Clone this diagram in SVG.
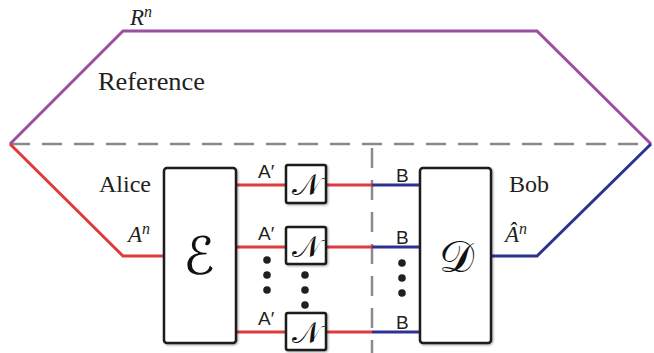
<svg xmlns="http://www.w3.org/2000/svg" width="654" height="353" viewBox="0 0 654 353">
<defs>
<filter id="sh" x="-20%" y="-20%" width="140%" height="140%">
<feDropShadow dx="1" dy="1" stdDeviation="1.2" flood-color="#000" flood-opacity="0.35"/>
</filter>
<style>
.purple{fill:none;stroke:#9c4f9e;stroke-width:3;stroke-linejoin:miter}
.red{fill:none;stroke:#e0393e;stroke-width:3}
.blue{fill:none;stroke:#2e3192;stroke-width:3}
.dash{fill:none;stroke:#8a8a8a;stroke-width:2.5;stroke-dasharray:20 12}
.box{fill:#fff;stroke:#1a1a1a;stroke-width:2.5;filter:url(#sh)}
.serif{font-family:"Liberation Serif","DejaVu Serif",serif;fill:#231f20}
.it{font-style:italic}
.sans{font-family:"Liberation Sans","DejaVu Sans",sans-serif;fill:#231f20}
.script{font-family:"DejaVu Serif","DejaVu Sans","Noto Sans",serif;fill:#111;text-anchor:middle}
.dot{fill:#231f20}
</style>
</defs>
<g id="connectors">
<line class="dash" x1="10" y1="144" x2="651" y2="144"/>
<line class="dash" x1="372" y1="148" x2="372" y2="353"/>
<polyline class="purple" points="10,144 123,31 537,31 651,144"/>
<polyline class="red" points="10,144 123,256 164,256"/>
<polyline class="blue" points="491,256 537,256 651,144"/>
<line class="red" x1="236" y1="185" x2="286" y2="185"/>
<line class="red" x1="236" y1="247" x2="286" y2="247"/>
<line class="red" x1="236" y1="332" x2="286" y2="332"/>
<line class="red" x1="326" y1="185" x2="372" y2="185"/>
<line class="red" x1="326" y1="247" x2="372" y2="247"/>
<line class="red" x1="326" y1="332" x2="372" y2="332"/>
<line class="blue" x1="372" y1="185" x2="420" y2="185"/>
<line class="blue" x1="372" y1="247" x2="420" y2="247"/>
<line class="blue" x1="372" y1="332" x2="420" y2="332"/>
</g>
<g id="labels">
<text class="serif" x="98" y="90" font-size="25" textLength="107" lengthAdjust="spacingAndGlyphs">Reference</text>
<text class="serif it" x="130" y="25" font-size="23">R<tspan font-size="16" dy="-8">n</tspan></text>
<text class="serif" x="99" y="192" font-size="24">Alice</text>
<text class="serif it" x="128" y="242" font-size="23">A<tspan font-size="16" dy="-8">n</tspan></text>
<text class="serif" x="509" y="192" font-size="24">Bob</text>
<text class="serif it" x="505" y="242" font-size="23">Â<tspan font-size="16" dy="-8">n</tspan></text>
<text class="sans" x="258" y="178" font-size="19">A′</text>
<text class="sans" x="258" y="240" font-size="19">A′</text>
<text class="sans" x="258" y="325" font-size="19">A′</text>
<text class="sans" x="396" y="182" font-size="19">B</text>
<text class="sans" x="396" y="244" font-size="19">B</text>
<text class="sans" x="396" y="329" font-size="19">B</text>
</g>
<g id="dots">
<circle class="dot" cx="267" cy="260" r="3.8"/>
<circle class="dot" cx="267" cy="275" r="3.8"/>
<circle class="dot" cx="267" cy="290" r="3.8"/>
<circle class="dot" cx="305" cy="275" r="3.8"/>
<circle class="dot" cx="305" cy="290" r="3.8"/>
<circle class="dot" cx="305" cy="305" r="3.8"/>
<circle class="dot" cx="402" cy="263" r="3.8"/>
<circle class="dot" cx="402" cy="278" r="3.8"/>
<circle class="dot" cx="402" cy="293" r="3.8"/>
</g>
<g id="encoder">
<rect class="box" x="164" y="168" width="72" height="175" rx="3"/>
<text class="script" x="199" y="274" font-size="52">ℰ</text>
</g>
<g id="decoder">
<rect class="box" x="420" y="168" width="71" height="175" rx="3"/>
<text class="script" x="456" y="272" font-size="44">𝒟</text>
</g>
<g id="channel1">
<rect class="box" x="286" y="165" width="40" height="38" rx="2"/>
<text class="script" x="306" y="195" font-size="30">𝒩</text>
</g>
<g id="channel2">
<rect class="box" x="286" y="227" width="40" height="37" rx="2"/>
<text class="script" x="306" y="257" font-size="30">𝒩</text>
</g>
<g id="channel3">
<rect class="box" x="286" y="313" width="40" height="37" rx="2"/>
<text class="script" x="306" y="343" font-size="30">𝒩</text>
</g>
</svg>
